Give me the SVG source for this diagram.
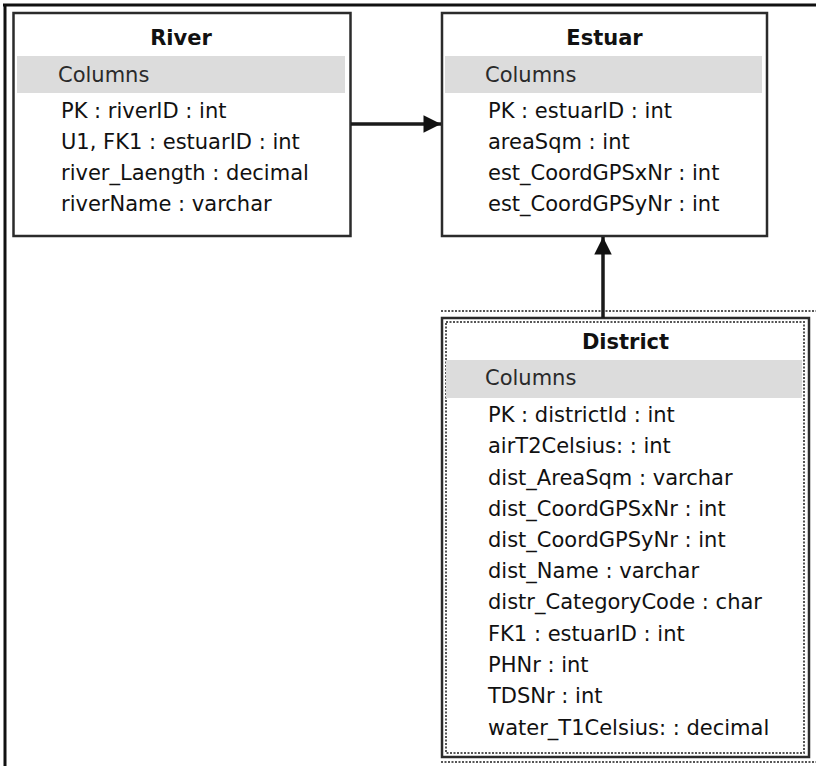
<svg xmlns="http://www.w3.org/2000/svg" width="816" height="766" viewBox="0 0 816 766">
<style>
.box{fill:#fff;stroke:#2b2b2b;stroke-width:2.5}
.band{fill:#dcdcdc}
.title{font-family:"DejaVu Sans",sans-serif;font-weight:bold;font-size:21px;fill:#111;text-anchor:middle}
.hdr{font-family:"DejaVu Sans",sans-serif;font-size:21px;fill:#2a2a2a}
.row{font-family:"DejaVu Sans",sans-serif;font-size:21px;fill:#111}
.dot{fill:none;stroke:#555;stroke-width:2;stroke-dasharray:2 1.5}
.conn{stroke:#1a1a1a;stroke-width:3.5;fill:none}
</style>
<defs>
<marker id="arrow" viewBox="0 0 10 10" refX="10" refY="5" markerWidth="7" markerHeight="5" markerUnits="strokeWidth" orient="auto">
<path d="M0,0 L10,5 L0,10 Z" fill="#111"/>
</marker>
</defs>
<rect width="816" height="766" fill="#fff"/>
<g id="frame">
<line x1="3" y1="5" x2="816" y2="5" stroke="#111" stroke-width="3"/>
<line x1="5" y1="4" x2="5" y2="766" stroke="#111" stroke-width="3"/>
</g>
<g id="river">
<rect class="box" x="13.5" y="13" width="337" height="223"/>
<rect class="band" x="17" y="56" width="328" height="37"/>
<text class="title" x="181" y="45">River</text>
<text class="hdr" x="58" y="82">Columns</text>
<text class="row" x="61" y="118">PK : riverID : int</text>
<text class="row" x="61" y="149">U1, FK1 : estuarID : int</text>
<text class="row" x="61" y="180">river_Laength : decimal</text>
<text class="row" x="61" y="211">riverName : varchar</text>
</g>
<g id="estuar">
<rect class="box" x="442" y="13" width="325" height="223"/>
<rect class="band" x="445" y="56" width="317" height="37"/>
<text class="title" x="604.5" y="45">Estuar</text>
<text class="hdr" x="485" y="82">Columns</text>
<text class="row" x="488" y="118">PK : estuarID : int</text>
<text class="row" x="488" y="149">areaSqm : int</text>
<text class="row" x="488" y="180">est_CoordGPSxNr : int</text>
<text class="row" x="488" y="211">est_CoordGPSyNr : int</text>
</g>
<g id="district">
<line class="dot" x1="441" y1="311" x2="816" y2="311"/>
<line class="dot" x1="441" y1="762" x2="816" y2="762"/>
<rect class="box" x="442" y="318" width="367" height="439"/>
<rect class="dot" x="446" y="322" width="358" height="431" stroke="#888" stroke-width="1.5"/>
<rect class="band" x="446" y="360" width="356" height="38"/>
<text class="title" x="625.5" y="349">District</text>
<text class="hdr" x="485" y="385">Columns</text>
<text class="row" x="488" y="422">PK : districtId : int</text>
<text class="row" x="488" y="453">airT2Celsius: : int</text>
<text class="row" x="488" y="484.5">dist_AreaSqm : varchar</text>
<text class="row" x="488" y="515.5">dist_CoordGPSxNr : int</text>
<text class="row" x="488" y="547">dist_CoordGPSyNr : int</text>
<text class="row" x="488" y="578">dist_Name : varchar</text>
<text class="row" x="488" y="609">distr_CategoryCode : char</text>
<text class="row" x="488" y="640.5">FK1 : estuarID : int</text>
<text class="row" x="488" y="672">PHNr : int</text>
<text class="row" x="488" y="703">TDSNr : int</text>
<text class="row" x="488" y="734.5">water_T1Celsius: : decimal</text>
</g>
<g id="connectors">
<line class="conn" x1="351" y1="124" x2="441" y2="124" marker-end="url(#arrow)"/>
<line class="conn" x1="603" y1="318" x2="603" y2="237" marker-end="url(#arrow)"/>
</g>
</svg>
